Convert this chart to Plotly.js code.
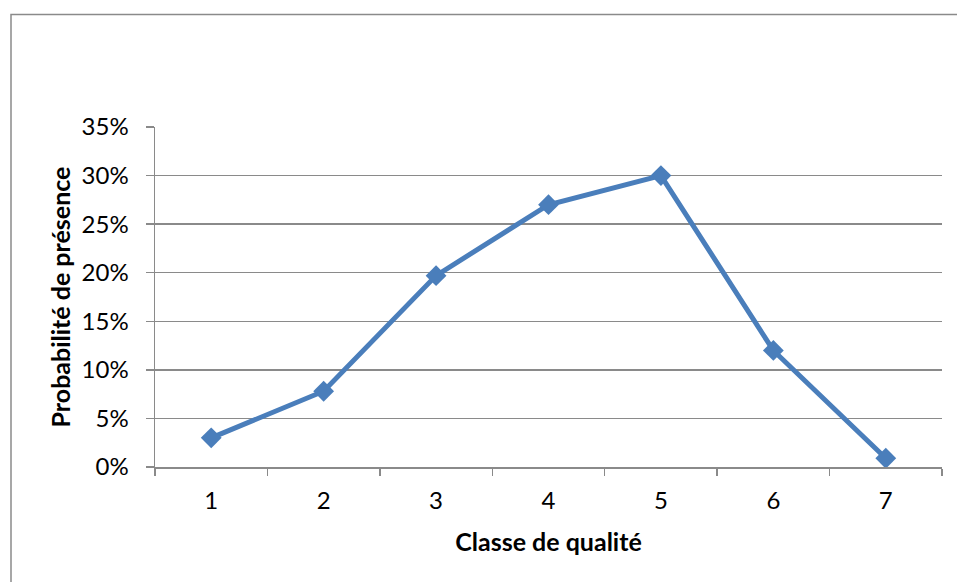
<!DOCTYPE html>
<html>
<head>
<meta charset="utf-8">
<script src="https://cdn.plot.ly/plotly-3.0.1.min.js"></script>
<style>
html,body{margin:0;padding:0;background:#fff;}
#chart{width:957px;height:582px;}
</style>
</head>
<body>
<div id="chart"></div>
<script>
const categories = ['1','2','3','4','5','6','7'];
const probabilities = [0.03, 0.078, 0.197, 0.27, 0.30, 0.12, 0.009];
const yTickValues = [0, 0.05, 0.10, 0.15, 0.20, 0.25, 0.30, 0.35];
const yTickLabels = ['0%','5%','10%','15%','20%','25%','30%','35%'];

const font = "Lato, 'Open Sans', sans-serif";
const trace = {
  x: categories,
  y: probabilities,
  type: 'scatter',
  mode: 'lines+markers',
  line: {color: '#4a7ebb', width: 5},
  marker: {symbol: 'diamond', size: 16, color: '#4a7ebb'},
  cliponaxis: false,
  hoverinfo: 'skip'
};

const layout = {
  width: 957, height: 582,
  margin: {l: 155, r: 15, t: 127, b: 115},
  paper_bgcolor: '#ffffff', plot_bgcolor: '#ffffff',
  showlegend: false,
  font: {family: font, size: 24, color: '#000'},
  xaxis: {
    type: 'category',
    range: [-0.5, 6.5],
    tickson: 'boundaries',
    ticks: 'outside', ticklen: 7, tickcolor: '#8a8a8a', tickwidth: 1.5,
    showgrid: false, zeroline: false,
    showline: true, linecolor: '#8a8a8a', linewidth: 1.5,
    ticklabelstandoff: 12,
    tickfont: {family: font, size: 24, color: '#000'},
    title: {text: '<b>Classe de qualité</b>', font: {family: font, size: 25, color: '#000'}, standoff: 20}
  },
  yaxis: {
    range: [0, 0.35],
    tickmode: 'array', tickvals: yTickValues, ticktext: yTickLabels,
    ticks: 'outside', ticklen: 8, tickcolor: '#8a8a8a', tickwidth: 1.5,
    showgrid: true, gridcolor: '#8a8a8a', gridwidth: 1.5,
    zeroline: false,
    showline: true, linecolor: '#8a8a8a', linewidth: 1.5,
    ticklabelstandoff: 12,
    tickfont: {family: font, size: 24, color: '#000'},
    title: {text: '<b>Probabilité de présence</b>', font: {family: font, size: 25, color: '#000'}, standoff: 4}
  },
  shapes: [{
    type: 'rect', xref: 'paper', yref: 'paper',
    x0: (11 - 155) / 787, x1: (975 - 155) / 787,
    y0: (467 - 600) / 340, y1: (467 - 14.5) / 340,
    line: {color: '#8a8a8a', width: 1.5},
    fillcolor: 'rgba(0,0,0,0)', layer: 'below'
  }]
};

Plotly.newPlot('chart', [trace], layout, {displayModeBar: false, staticPlot: true});
</script>
</body>
</html>
